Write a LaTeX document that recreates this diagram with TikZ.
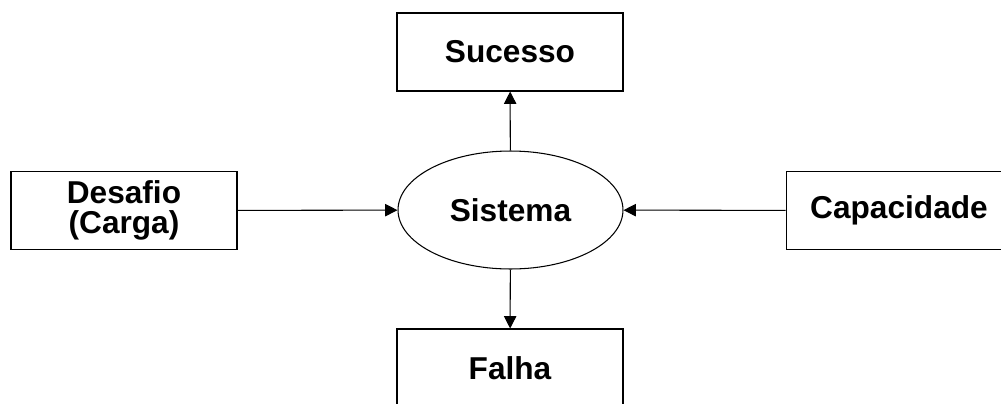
\documentclass[tikz,border=0pt]{standalone}
\usepackage{fontspec}
\setmainfont{Liberation Sans}
\usetikzlibrary{arrows.meta}
\usetikzlibrary{shapes.geometric}

\tikzset{
    box/.style={draw, line width=0.6pt, rectangle, minimum width=4.52cm, minimum height=1.56cm,
        align=center, font=\fontsize{18}{17}\selectfont\bfseries},
    seta/.style={line width=0.6pt, -{Triangle[length=7pt,width=7pt]}}
}

\begin{document}
\begin{tikzpicture}[x=0.02cm, y=-0.02cm]
    % Moldura
    \useasboundingbox (0,0) rectangle (1001,403);
    \clip (0,0) rectangle (1001,403);

    % Sistema (centro)
    \node[draw, line width=0.6pt, ellipse, minimum width=4.5cm, minimum height=2.36cm,
        font=\fontsize{18}{20}\selectfont\bfseries] (sistema) at (510.5,210) {Sistema};

    % Caixas
    \node[box] (sucesso) at (510,52) {Sucesso};
    \node[box] (desafio) at (124,210.5) {Desafio\\(Carga)};
    \node[box] (capacidade) at (899,210.5) {Capacidade};
    \node[box] (falha) at (510,368) {Falha};

    % Setas
    \draw[seta] (desafio) -- (sistema);
    \draw[seta] (capacidade) -- (sistema);
    \draw[seta] (sistema) -- (sucesso);
    \draw[seta] (sistema) -- (falha);

\end{tikzpicture}
\end{document}
